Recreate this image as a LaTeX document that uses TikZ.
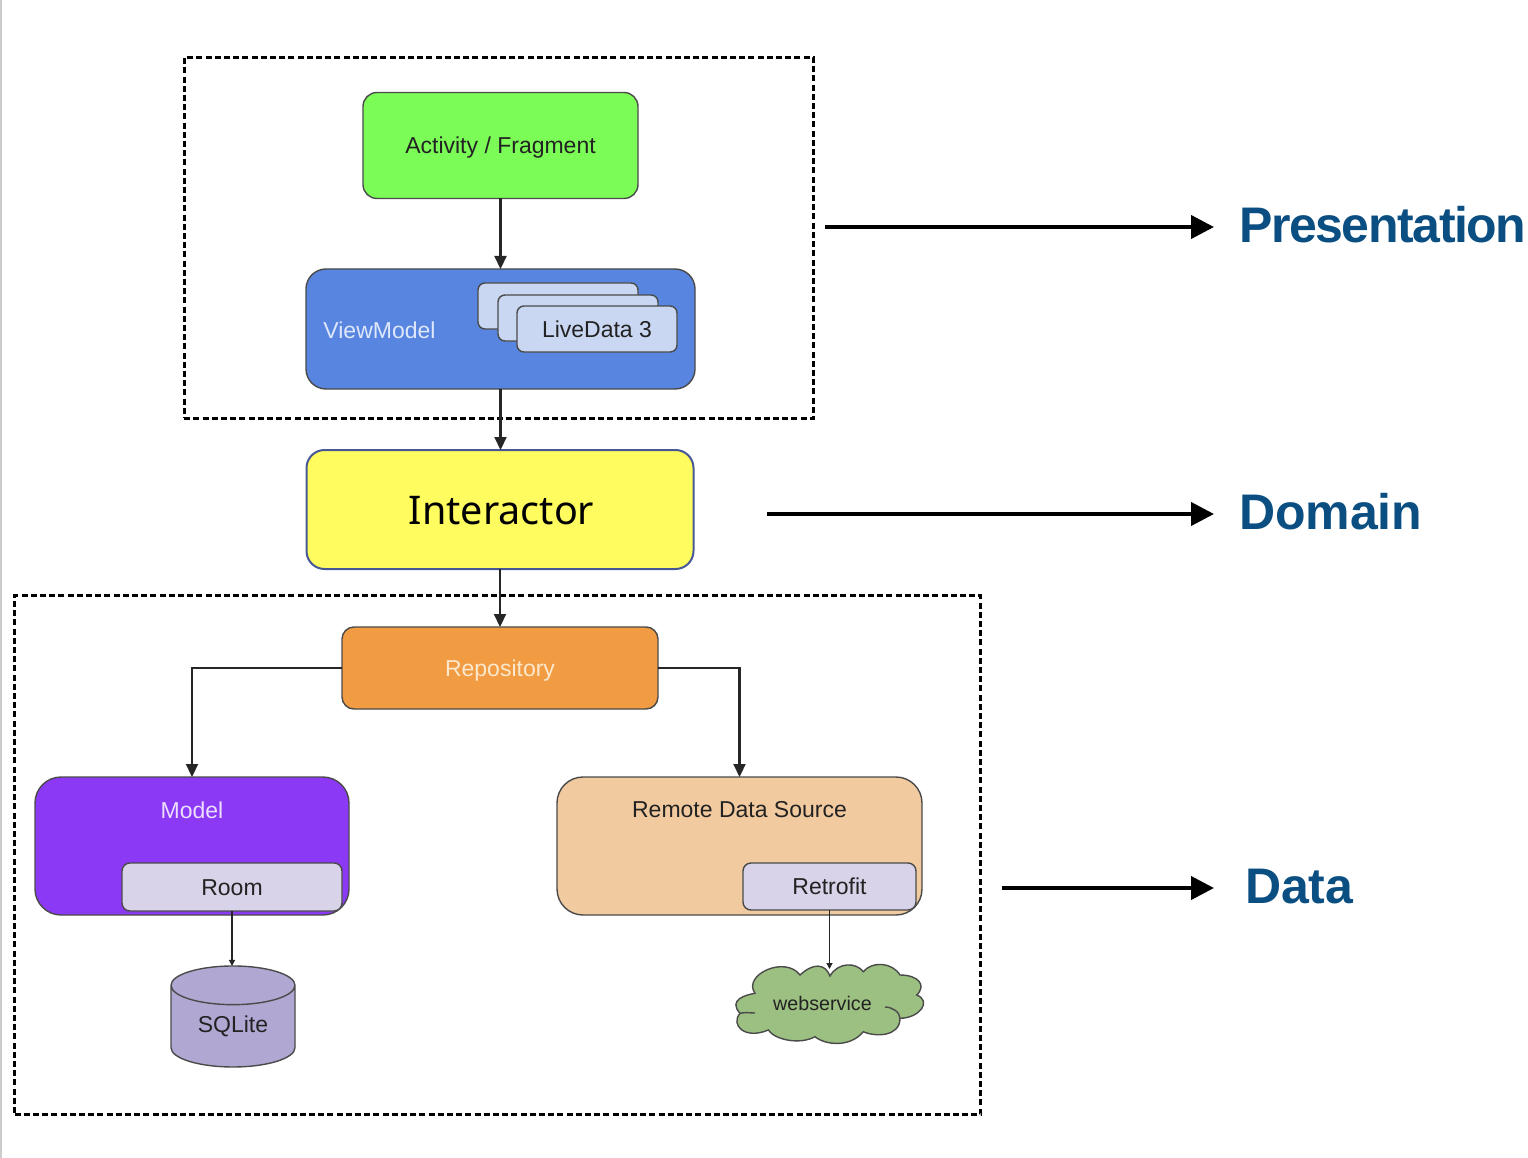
\documentclass[tikz,border=0pt]{standalone}
\usepackage{fontspec}
\setmainfont{Liberation Sans}
\newfontfamily\interfont{Noto Sans}
\usetikzlibrary{arrows.meta}
\usetikzlibrary{shapes.geometric}
\definecolor{edgegray}{HTML}{4A4A4A}
\definecolor{layerblue}{HTML}{0B4F82}
\definecolor{cloudgreen}{HTML}{9CC081}
\definecolor{dbpurple}{HTML}{B0A8D2}
\definecolor{inkgray}{HTML}{222222}
\tikzstyle{box}=[draw=edgegray,line width=1.4pt,rounded corners=12pt,inner sep=0pt,outer sep=0pt,text=inkgray,text height=17pt,text depth=1pt,font=\fontsize{23}{28}\selectfont]
\tikzstyle{frame}=[draw=black,line width=3pt,dash pattern=on 6pt off 3.2pt,inner sep=0pt,outer sep=0pt]
\tikzstyle{flow}=[draw=black!85,line width=2.2pt,-{Triangle[length=13pt,width=12pt]}]
\tikzstyle{thinflow}=[draw=black!85,line width=1.2pt,-{Triangle[length=6pt,width=6pt]}]
\tikzstyle{layerarrow}=[draw=black,line width=4pt,-{Triangle[length=23pt,width=23pt]}]
\tikzstyle{layer}=[text=layerblue,anchor=west,inner sep=0pt,outer sep=0pt]
\tikzstyle{caption}=[inner sep=0pt,outer sep=0pt,text=inkgray,font=\fontsize{23}{28}\selectfont]
\begin{document}
\begin{tikzpicture}[x=1pt,y=-1pt]
\useasboundingbox (0,0) rectangle (1528,1158);
\fill[black!20] (0,0) rectangle (2,1158);
\node[frame,minimum width=629.5pt,minimum height=360pt] (upper) at (499, 238) {};
\node[frame,minimum width=966pt,minimum height=519pt] (lower) at (497.5, 855) {};
\node[box,fill={rgb,255:red,123;green,252;blue,87},minimum width=275pt,minimum height=106pt,rounded corners=14pt] (activity) at (500.5, 145.5) {Activity / Fragment};
\node[box,fill={rgb,255:red,88;green,133;blue,224},minimum width=389pt,minimum height=120pt,rounded corners=20pt] (viewmodel) at (500.5, 329) {};
\node[caption,text={rgb,255:red,222;green,232;blue,250}] (vmlabel) at (379.5, 330) {ViewModel};
\node[box,fill={rgb,255:red,201;green,215;blue,242},minimum width=160pt,minimum height=46pt,rounded corners=7pt] (live1) at (558, 306) {};
\node[box,fill={rgb,255:red,201;green,215;blue,242},minimum width=160pt,minimum height=46pt,rounded corners=7pt] (live2) at (578, 318) {};
\node[box,fill={rgb,255:red,201;green,215;blue,242},minimum width=160pt,minimum height=46pt,rounded corners=7pt] (live3) at (597, 329) {LiveData 3};
\node[box,draw={rgb,255:red,72;green,88;blue,150},line width=2pt,fill={rgb,255:red,255;green,252;blue,95},text=black,minimum width=387pt,minimum height=119pt,rounded corners=18pt,text height=29pt,text depth=0pt,font=\interfont\fontsize{39.5}{48}\selectfont] (interactor) at (500, 509.5) {\hspace*{3pt}Interactor};
\node[box,fill={rgb,255:red,241;green,156;blue,66},text={rgb,255:red,252;green,232;blue,205},minimum width=316pt,minimum height=82pt] (repository) at (500, 668) {Repository};
\node[box,fill={rgb,255:red,139;green,57;blue,245},minimum width=314pt,minimum height=138pt,rounded corners=26pt] (model) at (192, 846) {};
\node[caption,text={rgb,255:red,236;green,222;blue,252}] (modellabel) at (192, 810) {Model};
\node[box,fill={rgb,255:red,216;green,211;blue,232},minimum width=220pt,minimum height=48pt,rounded corners=8pt] (room) at (232, 887) {Room};
\node[box,fill={rgb,255:red,242;green,202;blue,159},minimum width=365pt,minimum height=138pt,rounded corners=26pt] (remote) at (739.5, 846) {};
\node[caption] (remotelabel) at (739.5, 810) {Remote Data Source};
\node[box,fill={rgb,255:red,216;green,211;blue,232},minimum width=173pt,minimum height=47pt,rounded corners=8pt] (retrofit) at (829.5, 886.5) {Retrofit};
\node[draw=edgegray,line width=1.4pt,shape=cylinder,shape border rotate=90,aspect=0.55,minimum width=124pt,minimum height=101pt,inner sep=0pt,outer sep=0pt,cylinder uses custom fill,cylinder body fill=dbpurple,cylinder end fill=dbpurple,text=inkgray,font=\fontsize{23}{28}\selectfont] (sqlite) at (233, 1026.5) {SQLite};
\draw[line width=1.4pt,draw=edgegray,fill=cloudgreen] (830,976) .. controls (838,962) and (856,962) .. (863.3,971.7) .. controls (872,961) and (892,962) .. (900,975) .. controls (918,975) and (927,985) .. (916.7,995) .. controls (932,1001) and (920,1018) .. (900,1018.3) .. controls (900,1037) and (875,1037) .. (863.3,1031.7) .. controls (850,1048) and (825,1045) .. (815,1036.7) .. controls (800,1045) and (775,1040) .. (768.3,1030) .. controls (745,1040) and (730,1025) .. (740,1013.3) .. controls (728,1000) and (745,995) .. (755,993.3) .. controls (742,975) and (785,955) .. (800,975) .. controls (813,963) and (825,963) .. (830,976) -- cycle;
\draw[line width=1.4pt,draw=edgegray] (885,1007) .. controls (892,1007) and (900,1012) .. (900,1018.3);
\draw[line width=1.4pt,draw=edgegray] (740,1013.3) .. controls (745,1012) and (750,1013) .. (755,1013);
\node[caption,font=\fontsize{19.7}{24}\selectfont] (cloudlabel) at (822.5, 1003) {webservice};
\coordinate (cloudtop) at (829.5, 969);
\draw[flow] (activity) -- (viewmodel);
\draw[flow] (viewmodel) -- (viewmodel |- interactor.north);
\draw[flow] (interactor) -- (interactor |- repository.north);
\draw[flow] (repository.west) -| (model.north);
\draw[flow] (repository.east) -| (remote.north);
\draw[thinflow] (room.south) -- (room.south |- sqlite.north);
\draw[thinflow] (retrofit.south) -- (cloudtop);
\node[layer,font=\fontsize{50}{56}\selectfont\bfseries\addfontfeature{LetterSpace=-2.8}] (presentation) at (1239, 225) {Presentation};
\node[layer,font=\fontsize{50}{56}\selectfont\bfseries] (domain) at (1239, 512) {Domain};
\node[layer,font=\fontsize{50}{56}\selectfont\bfseries] (data) at (1245, 887) {Data};
\coordinate (upperstart) at (825, 227);
\coordinate (upperend) at (1214, 227);
\coordinate (domainstart) at (767, 514);
\coordinate (domainend) at (1214, 514);
\coordinate (lowerstart) at (1002, 888);
\coordinate (lowerend) at (1214, 888);
\draw[layerarrow] (upperstart) -- (upperend);
\draw[layerarrow] (domainstart) -- (domainend);
\draw[layerarrow] (lowerstart) -- (lowerend);
\end{tikzpicture}
\end{document}
